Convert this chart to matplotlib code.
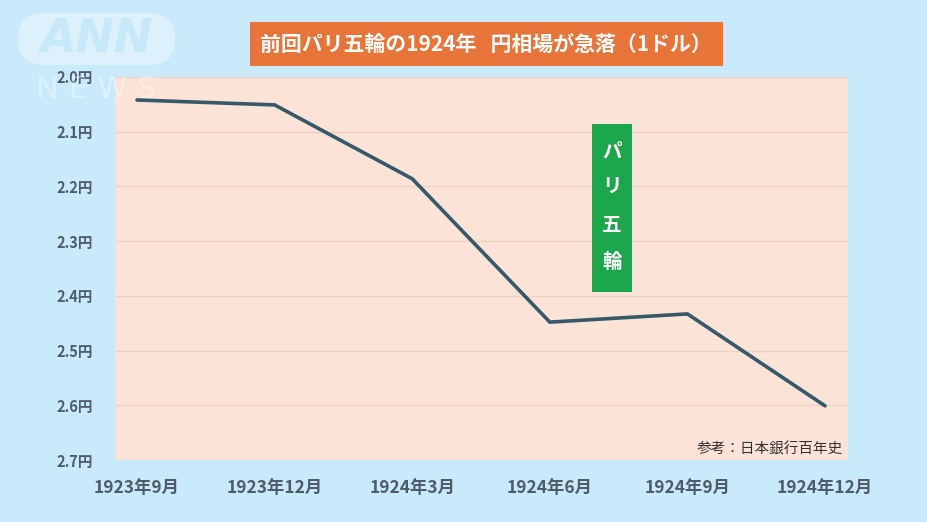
import matplotlib
matplotlib.use("Agg")
import matplotlib.pyplot as plt
from matplotlib.patches import FancyBboxPatch, Rectangle

plt.rcParams['font.family'] = ['Noto Sans CJK JP', 'DejaVu Sans']

categories = ["1923年9月", "1923年12月", "1924年3月", "1924年6月", "1924年9月", "1924年12月"]
values = [2.042, 2.051, 2.186, 2.448, 2.433, 2.601]
yticks = [2.0, 2.1, 2.2, 2.3, 2.4, 2.5, 2.6, 2.7]
ytick_labels = [f"{v:.1f}円" for v in yticks]
title = "前回パリ五輪の1924年   円相場が急落（1ドル）"
event_label = ["パ", "リ", "五", "輪"]
source = "参考：日本銀行百年史"

W, H = 928, 522
fig = plt.figure(figsize=(W / 100, H / 100), dpi=100)
fig.patch.set_facecolor("#C9EAFA")

def fx(px):
    return px / W

def fy(py):
    return 1 - py / H

L, R, T, B = 115, 848, 77, 460
ax = fig.add_axes([fx(L), fy(B), (R - L) / W, (B - T) / H])
ax.set_facecolor("#FCE3D7")
x = list(range(len(categories)))
ax.plot(x, values, color="#35596A", lw=2.6, solid_capstyle="round", zorder=3)
ax.set_xlim(-0.16, 5.167)
ax.set_ylim(2.7, 2.0)
ax.set_yticks(yticks)
ax.set_yticklabels(ytick_labels)
ax.set_xticks(x)
ax.set_xticklabels(categories)
ax.grid(axis="y", color="#F0D2C4", lw=1)
ax.tick_params(length=0)
ax.tick_params(axis="y", pad=16, labelsize=10.5, labelcolor="#4E5C68")
ax.tick_params(axis="x", pad=14, labelsize=12.5, labelcolor="#4E5C68")
for lab in ax.get_xticklabels() + ax.get_yticklabels():
    lab.set_fontweight("bold")
for s in ax.spines.values():
    s.set_visible(False)

# source note
ax.text((843 - L) / (R - L), 1 - (449 - T) / (B - T), source, transform=ax.transAxes,
        ha="right", va="center", fontsize=10.5, color="#333333")

# overlay axes in pixel units for decorations
ov = fig.add_axes([0, 0, 1, 1], zorder=10)
ov.set_xlim(0, W)
ov.set_ylim(H, 0)
ov.axis("off")
ov.patch.set_alpha(0)

# title box
ov.add_patch(Rectangle((250, 22), 723 - 250, 66 - 22, facecolor="#E8743A",
                       edgecolor="none", zorder=2))
ov.text(486, 44, title, ha="center", va="center", fontsize=15,
        fontweight="bold", color="white", zorder=3)

# event box
ov.add_patch(Rectangle((592, 124), 632 - 592, 292 - 124, facecolor="#1CA74C",
                       edgecolor="none", zorder=2))
for ch, py in zip(event_label, [152, 186, 225, 262]):
    ov.text(612, py, ch, ha="center", va="center", fontsize=14,
            fontweight="bold", color="white", zorder=3)

# watermark
ov.add_patch(FancyBboxPatch((18, 13), 175 - 18, 65 - 13,
                            boxstyle="round,pad=0,rounding_size=26",
                            facecolor="#E2F4FC", edgecolor="none", alpha=0.8, zorder=5))
ov.text(97, 40, "ANN", ha="center", va="center", fontsize=33,
        fontstyle="italic", fontweight="bold", color="#C6E8F8", zorder=6,
        family=["DejaVu Sans"])
ov.text(96, 89, "N E W S", ha="center", va="center", fontsize=22,
        color="white", alpha=0.35, zorder=6, family=["DejaVu Sans"])

fig.savefig("out.png", dpi=100, facecolor=fig.get_facecolor())
